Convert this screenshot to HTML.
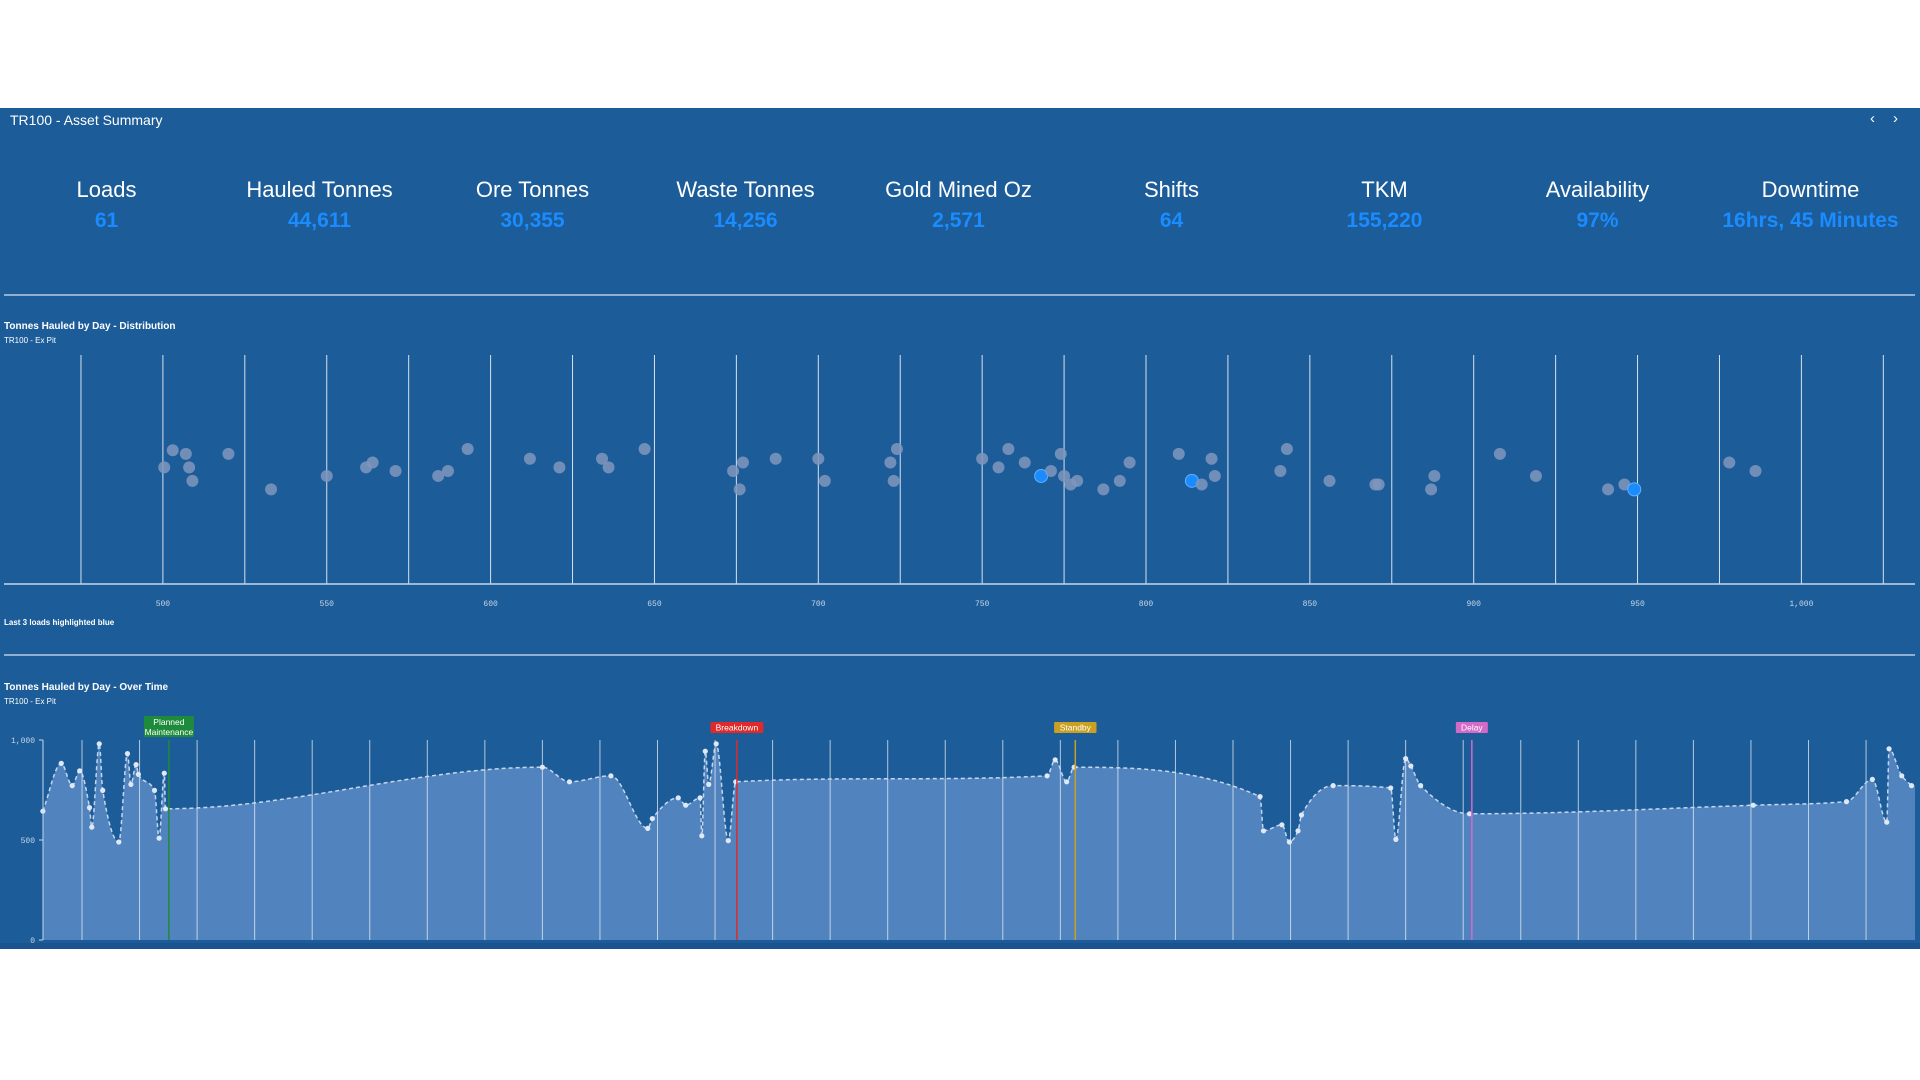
<!DOCTYPE html>
<html><head><meta charset="utf-8">
<style>
body{margin:0;width:1920px;height:1080px;background:#fff;overflow:hidden;font-family:"Liberation Sans Narrow","Liberation Sans",sans-serif;}
#panel{position:absolute;left:0;top:108px;width:1920px;height:841px;background:#1c5c98;}
.t{position:absolute;color:#fff;white-space:nowrap;}
.kl{position:absolute;top:69px;width:213px;text-align:center;color:#fff;font-size:22px;}
.kv{position:absolute;top:101px;width:213px;text-align:center;color:#1a8cff;font-size:21px;font-weight:bold;}
svg{position:absolute;left:0;top:0;}
</style></head><body>
<div id="panel">
<div class="t" style="left:10px;top:4px;font-size:14px">TR100 - Asset Summary</div>
<div class="t" style="left:1870px;top:2px;font-size:15px">‹</div>
<div class="t" style="left:1893px;top:2px;font-size:15px">›</div>
<div id="kpis"></div>
<div style="position:absolute;left:4px;top:186px;width:1911px;height:2px;background:#8eaed2"></div>
<div class="t" style="left:4px;top:213px;font-size:10px;font-weight:bold">Tonnes Hauled by Day - Distribution</div>
<div class="t" style="left:4px;top:228px;font-size:8px">TR100 - Ex Pit</div>
<div class="t" style="left:4px;top:510px;font-size:8px;font-weight:bold">Last 3 loads highlighted blue</div>
<div style="position:absolute;left:4px;top:546px;width:1911px;height:2px;background:#8eaed2"></div>
<div class="t" style="left:4px;top:574px;font-size:10px;font-weight:bold">Tonnes Hauled by Day - Over Time</div>
<div class="t" style="left:4px;top:589px;font-size:8px">TR100 - Ex Pit</div>
<div style="position:absolute;left:0;top:835px;width:1920px;height:6px;background:#195490"></div>
</div>
<svg id="chart" width="1920" height="1080" xmlns="http://www.w3.org/2000/svg"></svg>
<script>
const kpiLabels=["Loads","Hauled Tonnes","Ore Tonnes","Waste Tonnes","Gold Mined Oz","Shifts","TKM","Availability","Downtime"];
const kpiValues=["61","44,611","30,355","14,256","2,571","64","155,220","97%","16hrs, 45 Minutes"];
// distribution
const distTicks=[500,550,600,650,700,750,800,850,900,950,1000];
const distValues=[500.4,503,507,508,509,520,533,550,562,564,571,584,587,593,612,621,634,636,647,674,676,677,687,700,702,722,723,724,750,755,758,763,768,771,774,775,777,779,787,792,795,810,814,817,820,821,841,843,856,870,871,887,888,908,919,941,946,949,978,986];
const distJitter=[15,1,4,15,26,4,33,22,15,11,18,22,18,0,8,15,8,15,0,18,33,11,8,8,26,11,26,0,8,15,0,11,22,18,4,22,29,26,33,26,11,4,26,29,8,22,18,0,26,29,29,33,22,4,22,33,29,33,11,18];
const distHighlight=[32,42,57];
// over time
const timeT=[-0.68,-0.36,-0.17,-0.04,0.13,0.17,0.30,0.36,0.64,0.79,0.85,0.94,0.98,1.26,1.34,1.43,1.45,8.00,8.47,9.19,9.83,9.91,10.36,10.49,10.74,10.77,10.83,10.89,11.02,11.23,11.36,16.77,16.91,17.11,17.24,20.47,20.53,20.85,20.98,21.13,21.19,21.74,22.74,22.83,23.00,23.09,23.26,24.11,29.04,30.66,31.11,31.36,31.40,31.62,31.79];
const timeV=[644,883,772,846,662,564,981,748,490,932,778,877,828,748,509,834,656,864,791,821,558,607,711,674,711,521,944,778,981,497,791,821,901,791,864,717,546,576,490,546,625,772,760,503,907,870,772,631,674,692,803,589,956,821,772];
const yTicks=[0,500,1000];
const events=[{name:"Planned Maintenance",t:1.51,c:"#1e8a3c"},{name:"Breakdown",t:11.38,c:"#e02a2a"},{name:"Standby",t:17.26,c:"#c9a020"},{name:"Delay",t:24.15,c:"#d46ac8"}];
const dayLines=32;

const panel=document.getElementById('kpis');
kpiLabels.forEach((l,i)=>{
  const a=document.createElement('div');a.className='kl';a.style.left=(i*213)+'px';a.textContent=l;
  
  panel.appendChild(a);
  const b=document.createElement('div');b.className='kv';b.style.left=(i*213)+'px';b.textContent=kpiValues[i];
  
  panel.appendChild(b);
});
const svg=document.getElementById('chart');const NS="http://www.w3.org/2000/svg";
function mk(tag,attrs,name,parent){const e=document.createElementNS(NS,tag);for(const k in attrs)e.setAttribute(k,attrs[k]);
 
 
 (parent||svg).appendChild(e);return e;}
const dx=v=>162.9+(v-500)*3.277;
const dTop=355,dBase=584;
for(let v=475;v<=1025;v+=25){mk('line',{x1:dx(v),x2:dx(v),y1:dTop,y2:dBase,stroke:'#d8e2ee','stroke-width':1},'dist-gridline');}
mk('line',{x1:4,x2:1915,y1:dBase,y2:dBase,stroke:'#c8d6e8','stroke-width':1.5},'dist-x-axis');
distTicks.forEach(v=>{const t=mk('text',{x:dx(v),y:606,fill:'#c8d6e8','font-size':8,'text-anchor':'middle','font-family':'Liberation Mono, monospace'},'dist-tick-label');t.textContent=v>=1000?'1,000':v;});
distValues.forEach((v,i)=>{const hl=distHighlight.includes(i);
 mk('circle',{cx:dx(v),cy:449+distJitter[i]*1.2245,r:hl?6.5:6,fill:hl?'#1a8cff':'#7f97bd',opacity:hl?1:0.85,stroke:hl?'#5fb0ff':'none'},hl?'dist-point-highlight':'dist-point');});
const tx=t=>82+t*57.55;
const ty=v=>940-v*0.2;
function monotone(xs,ys){const n=xs.length;const d=[],m=[];for(let i=0;i<n-1;i++)d.push((ys[i+1]-ys[i])/(xs[i+1]-xs[i]));
 m[0]=d[0];m[n-1]=d[n-2];for(let i=1;i<n-1;i++){m[i]=0;
 if(d[i-1]*d[i]>0){const w1=2*(xs[i+1]-xs[i])+(xs[i]-xs[i-1]),w2=(xs[i+1]-xs[i])+2*(xs[i]-xs[i-1]);m[i]=(w1+w2)/(w1/d[i-1]+w2/d[i]);}}
 let p='M'+xs[0]+','+ys[0];for(let i=0;i<n-1;i++){const h=(xs[i+1]-xs[i])/3;p+=' C'+(xs[i]+h)+','+(ys[i]+m[i]*h)+' '+(xs[i+1]-h)+','+(ys[i+1]-m[i+1]*h)+' '+xs[i+1]+','+ys[i+1];}return p;}
const X=timeT.map(tx),Y=timeV.map(ty);const line=monotone(X,Y);
const xEnd=1915;
mk('path',{d:line+' L'+xEnd+','+Y[Y.length-1]+' L'+xEnd+',940 L'+X[0]+',940 Z',fill:'#5b8bc4',opacity:0.85},'time-area');
for(let i=0;i<dayLines;i++){mk('line',{x1:tx(i),x2:tx(i),y1:740,y2:940,stroke:'#e6edf5','stroke-width':1,opacity:0.75},'time-gridline');}
mk('path',{d:line,fill:'none',stroke:'#c6d6ee','stroke-width':1.5,'stroke-dasharray':'4,3'},'time-line');
X.forEach((x,i)=>mk('circle',{cx:x,cy:Y[i],r:2.6,fill:'#dfe8f7'},'time-point'));
mk('line',{x1:43,x2:43,y1:740,y2:940,stroke:'#c8d6e8','stroke-width':1},'time-y-axis');
yTicks.forEach(v=>{mk('line',{x1:39,x2:43,y1:ty(v),y2:ty(v),stroke:'#c8d6e8'},'time-y-tick');
 const t=mk('text',{x:35,y:ty(v)+3,fill:'#c8d6e8','font-size':8,'text-anchor':'end','font-family':'Liberation Mono, monospace'},'time-y-tick-label');t.textContent=v>=1000?'1,000':v;});
events.forEach(e=>{const x=tx(e.t);
 mk('line',{x1:x,x2:x,y1:740,y2:940,stroke:e.c,'stroke-width':1.5},'event-line-'+e.name.toLowerCase().replace(/\s+/g,'-'));
 const two=e.name.includes(' ');const w=two?50:e.name.length*5.2+6,h=two?21:11,y0=two?716:722;
 mk('rect',{x:x-w/2,y:y0,width:w,height:h,fill:e.c,rx:1},'event-label-box');
 if(two){const parts=e.name.split(' ');parts.forEach((p,j)=>{const t=mk('text',{x:x,y:y0+9+j*10,fill:'#fff','font-size':8.5,'text-anchor':'middle','font-family':'Liberation Sans Narrow, Liberation Sans, sans-serif'},'event-label');t.textContent=p;});}
 else{const t=mk('text',{x:x,y:y0+8.5,fill:'#fff','font-size':8.5,'text-anchor':'middle','font-family':'Liberation Sans Narrow, Liberation Sans, sans-serif'},'event-label');t.textContent=e.name;}
});
</script>
</body></html>
